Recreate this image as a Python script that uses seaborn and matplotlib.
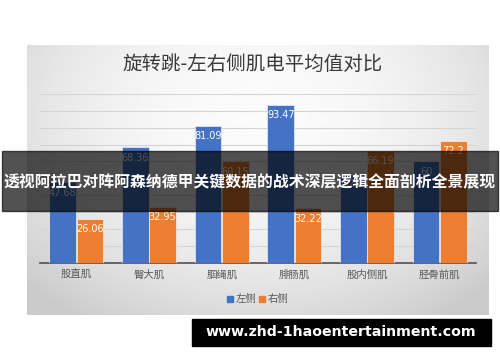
import numpy as np
import pandas as pd
import matplotlib
matplotlib.use("Agg")
import matplotlib.pyplot as plt
from matplotlib.patches import Rectangle
import seaborn as sns

categories = ["股直肌", "臀大肌", "腘绳肌", "腓肠肌", "股内侧肌", "胫骨前肌"]
left_vals = [47.68, 68.36, 81.09, 93.47, 52.5, 60]
right_vals = [26.06, 32.95, 60.15, 32.22, 66.19, 72.2]
series = ["左侧", "右侧"]
title = "旋转跳-左右侧肌电平均值对比"
banner = "透视阿拉巴对阵阿森纳德甲关键数据的战术深层逻辑全面剖析全景展现"
watermark = "www.zhd-1haoentertainment.com"

sns.set_theme(style="white")
plt.rcParams['font.family'] = ['Noto Sans CJK SC', 'DejaVu Sans']

df = pd.DataFrame({
    "muscle": categories * 2,
    "side": [series[0]] * len(categories) + [series[1]] * len(categories),
    "value": left_vals + right_vals,
})

W, H = 500, 362
fig = plt.figure(figsize=(W / 100, H / 100), dpi=100)
fig.patch.set_facecolor("white")

def fx(x):
    return x / W

def fy(y):
    return 1 - y / H

# gradient panel
px0, px1, py0, py1 = 27, 488, 45, 315
bg = fig.add_axes([fx(px0), fy(py1), fx(px1 - px0), (py1 - py0) / H])
gx = np.linspace(-1, 1, 300)
gy = np.linspace(-1, 1, 200)
XX, YY = np.meshgrid(gx, gy)
r = np.sqrt((XX * 0.9) ** 2 + ((YY + 0.45) * 0.7) ** 2)
r = np.clip(r, 0, 1.25) / 1.25
img = 0.985 - 0.19 * r ** 2.0
bg.imshow(img, cmap="gray", vmin=0, vmax=1, aspect="auto", extent=[0, 1, 0, 1], origin="upper")
bg.set_axis_off()

# main axes
ax0, ax1, ay0, ay1 = 40, 476, 94, 262.7
ax = fig.add_axes([fx(ax0), fy(ay1), fx(ax1 - ax0), (ay1 - ay0) / H])
ax.patch.set_alpha(0)
sns.barplot(data=df, x="muscle", y="value", hue="side", ax=ax,
            palette=["#4472C4", "#ED7D31"], width=0.75, gap=0.03,
            saturation=1, legend=False, zorder=3, edgecolor="#f0f0f0", linewidth=0.5)
ax.set_ylim(0, 100)
ax.set_xlim(-0.5, len(categories) - 0.5)
ax.set_yticks(np.arange(10, 101, 10))
ax.yaxis.grid(True, color="#d4d4d4", linewidth=0.8, zorder=0)
ax.set_axisbelow(True)
ax.tick_params(axis="y", left=False, labelleft=False)
ax.tick_params(axis="x", length=0, labelsize=7.5, labelcolor="#595959", pad=5)
ax.set_xlabel("")
ax.set_ylabel("")
for s in ["top", "right", "left"]:
    ax.spines[s].set_visible(False)
ax.spines["bottom"].set_color("#505050")
ax.spines["bottom"].set_linewidth(1.2)

for cont in ax.containers:
    labs = [f"{b.get_height():g}" for b in cont]
    ax.bar_label(cont, labels=labs, label_type="edge", padding=-11,
                 color="white", fontsize=7, family=["DejaVu Sans"])

# title
fig.text(0.505, fy(64), title, ha="center", va="center", fontsize=14,
         fontweight="medium", color="#3a3a3a")

# legend
fig.patches.append(Rectangle((fx(227), fy(302)), 6 / W, 6 / H, transform=fig.transFigure,
                             color="#4472C4", figure=fig))
fig.text(fx(236), fy(299), series[0], ha="left", va="center", fontsize=7.5, color="#595959")
fig.patches.append(Rectangle((fx(259), fy(302)), 6 / W, 6 / H, transform=fig.transFigure,
                             color="#ED7D31", figure=fig))
fig.text(fx(268), fy(299), series[1], ha="left", va="center", fontsize=7.5, color="#595959")

# banner overlay
fig.patches.append(Rectangle((fx(2), fy(211)), 496 / W, 60 / H, transform=fig.transFigure,
                             color="black", alpha=0.68, zorder=10, figure=fig))
fig.text(0.5, fy(182), banner, ha="center", va="center", fontsize=11.4,
         fontweight="bold", color="white", zorder=11)

# watermark
fig.patches.append(Rectangle((fx(192), fy(346)), 299 / W, 27 / H, transform=fig.transFigure,
                             color="black", zorder=10, figure=fig))
fig.text(fx(341), fy(332.5), watermark, ha="center", va="center", fontsize=10.2,
         fontweight="bold", color="white", family=["DejaVu Sans"], zorder=11)

fig.savefig("out.png", dpi=100)
